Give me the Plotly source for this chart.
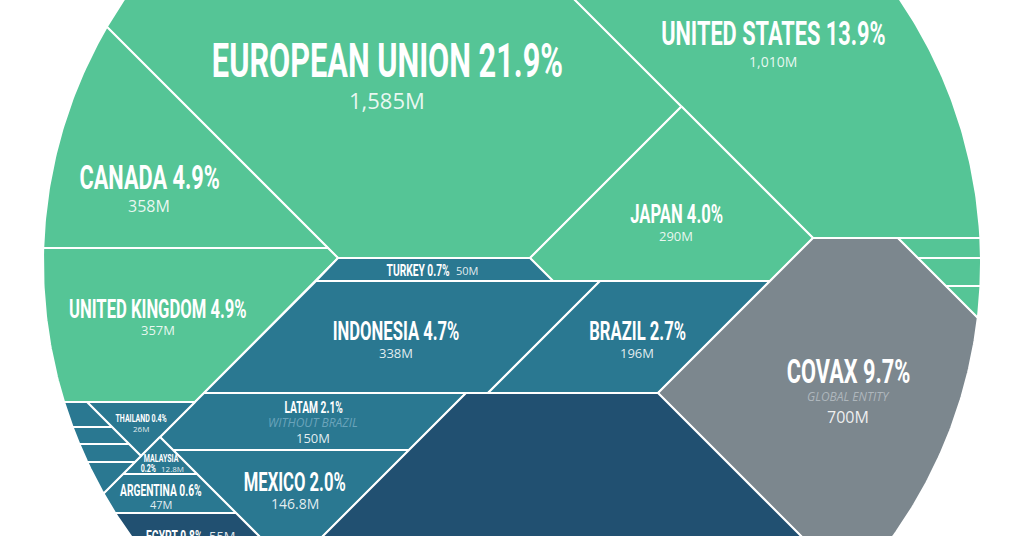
import math
import plotly.graph_objects as go

# ---------------- data ----------------
LABELS = ["EUROPEAN UNION", "UNITED STATES", "CANADA", "UNITED KINGDOM", "JAPAN",
          "TURKEY", "INDONESIA", "BRAZIL", "COVAX", "LATAM", "MEXICO",
          "THAILAND", "MALAYSIA", "ARGENTINA", "EGYPT"]
SHARE_PCT = [21.9, 13.9, 4.9, 4.9, 4.0, 0.7, 4.7, 2.7, 9.7, 2.1, 2.0, 0.4, 0.2, 0.6, 0.8]
DOSES = ["1,585M", "1,010M", "358M", "357M", "290M", "50M", "338M", "196M", "700M",
         "150M", "146.8M", "26M", "12.8M", "47M", "55M"]
GROUP = ["high", "high", "high", "high", "high", "upper", "upper", "upper", "global",
         "upper", "upper", "upper", "upper", "upper", "lower"]
NOTES = {"COVAX": "GLOBAL ENTITY", "LATAM": "WITHOUT BRAZIL"}

# unlabeled (small / off-frame) cells and their income group
OTHER_CELLS = ["HI_A", "HI_B", "HI_C", "UM_A", "UM_B", "UM_C", "UM_D", "LM_A"]
OTHER_GROUP = ["high", "high", "high", "upper", "upper", "upper", "upper", "lower"]

# ---------------- layout / geometry (pixel space of the 1024x536 frame) ----------------
W, H = 1024, 536
CIRCLE = dict(cx=512, cy=263, r=469)
GROUP_COLOR = {"high": "#55C596", "upper": "#2A7891", "lower": "#215071", "global": "#7C878E"}

# convex cells of the Voronoi treemap (later intersected with the circle)
CELLS = {
    "EUROPEAN UNION": [(-320, -400), (175, -400), (681.5, 106.5), (530, 258), (338, 258)],
    "UNITED STATES": [(175, -400), (1400, -400), (1400, 238), (813, 238), (681.5, 106.5)],
    "JAPAN": [(681.5, 106.5), (813, 238), (770, 281), (553, 281), (530, 258)],
    "CANADA": [(-400, -400), (-320, -400), (328, 248), (-400, 248)],
    "UNITED KINGDOM": [(-400, 248), (328, 248), (338, 258), (195, 402), (-400, 402)],
    "TURKEY": [(338, 258), (530, 258), (553, 281), (316, 281)],
    "INDONESIA": [(316, 281), (600, 281), (488, 393), (204, 393)],
    "BRAZIL": [(600, 281), (770, 281), (658, 393), (488, 393)],
    "COVAX": [(813, 238), (898, 238), (1400, 740), (1400, 1000), (1265, 1000), (658, 393)],
    "LATAM": [(204, 393), (466, 393), (409, 450), (173, 450), (160, 437)],
    "MEXICO": [(173, 450), (409, 450), (291, 568)],
    "THAILAND": [(87, 402), (195, 402), (141, 456)],
    "MALAYSIA": [(160, 437), (197, 474), (123, 474)],
    "ARGENTINA": [(123, 474), (197, 474), (236, 513), (84, 513)],
    "EGYPT": [(-400, 513), (236, 513), (291, 568), (291, 1000), (-400, 1000)],
    "HI_A": [(898, 238), (1400, 238), (1400, 258), (918, 258)],
    "HI_B": [(918, 258), (1400, 258), (1400, 286), (946, 286)],
    "HI_C": [(946, 286), (1400, 286), (1400, 740)],
    "UM_A": [(-400, 402), (87, 402), (112, 427), (-400, 427)],
    "UM_B": [(-400, 427), (112, 427), (129, 444), (-400, 444)],
    "UM_C": [(-400, 444), (129, 444), (141, 456), (135, 462), (-400, 462)],
    "UM_D": [(-400, 462), (135, 462), (-400, 997)],
    "LM_A": [(466, 393), (658, 393), (1265, 1000), (291, 1000), (291, 568)],
}

# label anchor points and font sizes (name size s, value size vs, note size ns)
LABEL_POS = {
    "EUROPEAN UNION": dict(x=387, y=60, s=48, vy=100, vs=22),
    "UNITED STATES": dict(x=773, y=33, s=34, vy=61, vs=14),
    "CANADA": dict(x=149, y=177, s=34, vy=206, vs=16),
    "UNITED KINGDOM": dict(x=158, y=309, s=26, vy=330, vs=13),
    "JAPAN": dict(x=676, y=214, s=26, vy=236, vs=13),
    "INDONESIA": dict(x=396, y=331, s=26, vy=353, vs=13),
    "BRAZIL": dict(x=637, y=331, s=26, vy=353, vs=13),
    "COVAX": dict(x=848, y=371, s=34, ny=396, ns=12, vy=417, vs=16),
    "LATAM": dict(x=313, y=407, s=16, ny=422, ns=12, vy=438, vs=13),
    "MEXICO": dict(x=295, y=482, s=26, vy=503, vs=14),
    "THAILAND": dict(x=141, y=418, s=11, vy=428, vs=8),
    "ARGENTINA": dict(x=161, y=490, s=16, vy=504, vs=11),
}

NAME_FONT = "Roboto, sans-serif"
NAME_SQUEEZE = 0.64
VALUE_FONT = "Open Sans, Lato, sans-serif"
VALUE_COLOR = "rgba(255,255,255,0.88)"


def clip_circle_by_convex(poly, cx, cy, r, n=720):
    pts = [(cx + r * math.cos(2 * math.pi * k / n), cy + r * math.sin(2 * math.pi * k / n)) for k in range(n)]
    area = 0.0
    for i in range(len(poly)):
        x1, y1 = poly[i]
        x2, y2 = poly[(i + 1) % len(poly)]
        area += x1 * y2 - x2 * y1
    sign = 1 if area > 0 else -1
    out = pts
    for i in range(len(poly)):
        a = poly[i]
        b = poly[(i + 1) % len(poly)]

        def side(p):
            return sign * ((b[0] - a[0]) * (p[1] - a[1]) - (b[1] - a[1]) * (p[0] - a[0]))

        def inter(p, q):
            sp, sq = side(p), side(q)
            t = sp / (sp - sq)
            return (p[0] + t * (q[0] - p[0]), p[1] + t * (q[1] - p[1]))

        inp = out
        out = []
        if not inp:
            break
        for j in range(len(inp)):
            cur = inp[j]
            prev = inp[j - 1]
            if side(cur) >= 0:
                if side(prev) < 0:
                    out.append(inter(prev, cur))
                out.append(cur)
            elif side(prev) >= 0:
                out.append(inter(prev, cur))
    return out


fig = go.Figure()

all_cells = list(zip(LABELS, GROUP)) + list(zip(OTHER_CELLS, OTHER_GROUP))
for name, grp in all_cells:
    shape = clip_circle_by_convex(CELLS[name], CIRCLE["cx"], CIRCLE["cy"], CIRCLE["r"])
    if not shape:
        continue
    xs = [p[0] for p in shape] + [shape[0][0]]
    ys = [p[1] for p in shape] + [shape[0][1]]
    fig.add_trace(go.Scatter(x=xs, y=ys, mode="lines", fill="toself",
                             fillcolor=GROUP_COLOR[grp],
                             line=dict(color="white", width=2),
                             hoverinfo="skip", showlegend=False))

ann = []


def add(text, x, y, size, family, color="white", weight=400, xanchor="center", italic=False):
    align = {"center": "center", "left": "left", "right": "right"}[xanchor]
    ann.append(dict(text=text, x=x, y=y, xref="x", yref="y", showarrow=False,
                    xanchor=xanchor, yanchor="middle", align=align, borderpad=0,
                    font=dict(family=family, size=size, color=color, weight=weight,
                              style="italic" if italic else "normal")))


for i, lab in enumerate(LABELS):
    if lab not in LABEL_POS:
        continue
    p = LABEL_POS[lab]
    add(f"{lab} {SHARE_PCT[i]:.1f}%", p["x"], p["y"], p["s"], NAME_FONT, weight=700)
    if lab in NOTES:
        col = "#AEB6BC" if lab == "COVAX" else "#6AA4BB"
        add(NOTES[lab], p["x"], p["ny"], p["ns"], VALUE_FONT, color=col, italic=True)
    add(DOSES[i], p["x"], p["vy"], p["vs"], VALUE_FONT, color=VALUE_COLOR)

# inline labels
iT = LABELS.index("TURKEY")
add(f"TURKEY {SHARE_PCT[iT]:.1f}%", 451, 270, 16, NAME_FONT, weight=700, xanchor="right")
add(DOSES[iT], 455, 270, 11, VALUE_FONT, color=VALUE_COLOR, xanchor="left")
iM = LABELS.index("MALAYSIA")
add("MALAYSIA", 161, 458, 11, NAME_FONT, weight=700)
add(f"{SHARE_PCT[iM]:.1f}%", 157, 468, 11, NAME_FONT, weight=700, xanchor="right")
add(DOSES[iM], 160, 468, 8, VALUE_FONT, color=VALUE_COLOR, xanchor="left")
iE = LABELS.index("EGYPT")
add(f"EGYPT {SHARE_PCT[iE]:.1f}%", 204, 536, 16, NAME_FONT, weight=700, xanchor="right")
add(DOSES[iE], 208, 536, 13, VALUE_FONT, color=VALUE_COLOR, xanchor="left")

fig.update_layout(
    width=W, height=H, margin=dict(l=0, r=0, t=0, b=0),
    paper_bgcolor="white", plot_bgcolor="white",
    xaxis=dict(range=[0, W], visible=False, fixedrange=True),
    yaxis=dict(range=[H, 0], visible=False, fixedrange=True),
    annotations=ann,
)

# page: no body margin; condensed look for the name labels (horizontal squeeze)
POST = """
document.body.style.margin = '0';
document.body.style.overflow = 'hidden';
var gd = document.getElementById('{plot_id}');
function squeezeNames() {
  var ts = gd.querySelectorAll('text.annotation-text');
  for (var i = 0; i < ts.length; i++) {
    var t = ts[i];
    var ff = t.style.fontFamily || '';
    if (ff.indexOf('Roboto') < 0) continue;
    t.removeAttribute('transform');
    var bb = t.getBBox();
    var a = t.getAttribute('text-anchor');
    var px = (a === 'end') ? bb.x + bb.width : ((a === 'start') ? bb.x : bb.x + bb.width / 2);
    t.setAttribute('transform', 'translate(' + px + ',0) scale(SQZ,1) translate(' + (-px) + ',0)');
  }
}
squeezeNames();
gd.on('plotly_afterplot', squeezeNames);
""".replace("SQZ", str(NAME_SQUEEZE))

fig.write_html("out.html", post_script=POST, config={"displayModeBar": False})
